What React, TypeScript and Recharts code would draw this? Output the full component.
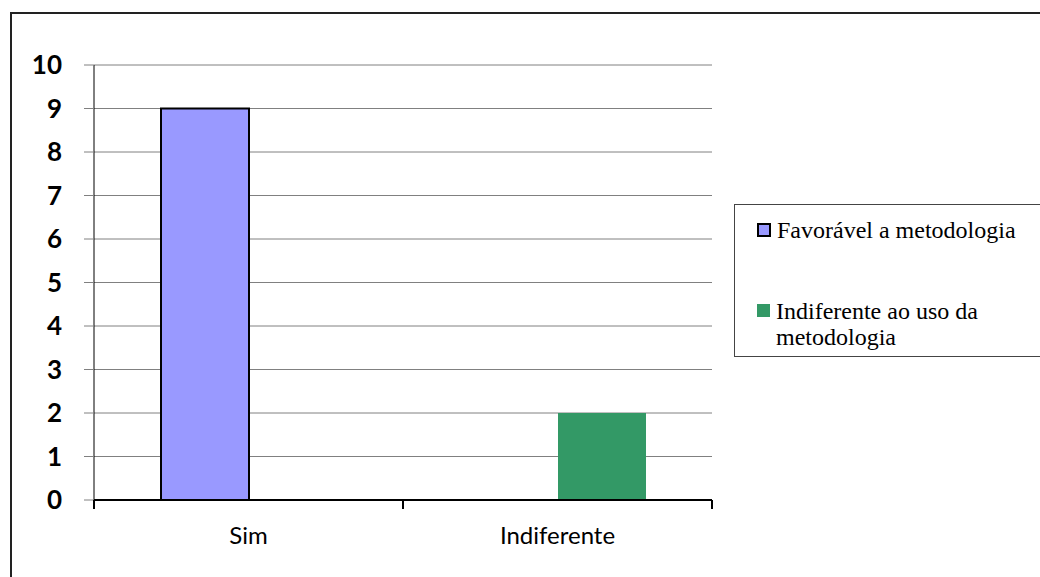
import { BarChart, Bar, XAxis, YAxis, CartesianGrid } from "recharts";

const categories = ["Sim", "Indiferente"];
const favoravel = [9, null];
const indiferente = [null, 2];
const yTicks = [0, 1, 2, 3, 4, 5, 6, 7, 8, 9, 10];

const series = [
  { key: "favoravel", name: "Favorável a metodologia", fill: "#9999FF", stroke: "#000" },
  { key: "indiferente", name: "Indiferente ao uso da metodologia", fill: "#339966", stroke: "none" },
];

const data = categories.map((name, i) => ({
  name,
  favoravel: favoravel[i],
  indiferente: indiferente[i],
}));

const TICK_MARGIN = 27;

// category label at the band centre, plus Excel-style tick marks on the band edges
function CategoryTick(props: any) {
  const { x, y, payload, index, visibleTicksCount } = props;
  const half = payload?.offset ?? 0;
  const axisY = y - TICK_MARGIN;
  const isLast = index === visibleTicksCount - 1;
  return (
    <g>
      <line x1={x - half} x2={x - half} y1={axisY} y2={axisY + 9} stroke="#000" strokeWidth={2} />
      {isLast && (
        <line x1={x + half} x2={x + half} y1={axisY} y2={axisY + 9} stroke="#000" strokeWidth={2} />
      )}
      <text
        x={x}
        y={y}
        dy="0.71em"
        textAnchor="middle"
        fill="#000"
        style={{ fontFamily: "Lato, sans-serif", fontSize: 24 }}
      >
        {payload.value}
      </text>
    </g>
  );
}

export default function App() {
  return (
    <div
      style={{
        position: "fixed",
        left: 0,
        top: 0,
        width: 1040,
        height: 577,
        overflow: "hidden",
        background: "#fff",
      }}
    >
      <div
        style={{
          position: "absolute",
          left: 10,
          top: 12,
          width: 1100,
          height: 700,
          borderLeft: "2px solid #222",
          borderTop: "2px solid #222",
        }}
      />
      <div style={{ position: "absolute", left: 0, top: 0 }}>
        <BarChart
          width={1040}
          height={577}
          data={data}
          margin={{ top: 65, right: 328, bottom: 37, left: 10 }}
          barGap={0}
        >
          <CartesianGrid vertical={false} stroke="#808080" />
          <YAxis
            type="number"
            domain={[0, 10]}
            ticks={yTicks}
            interval={0}
            width={84}
            tickSize={10}
            tickMargin={22}
            axisLine={{ stroke: "#000" }}
            tickLine={{ stroke: "#808080" }}
            tick={{ fill: "#000", fontFamily: "Lato, sans-serif", fontSize: 26, fontWeight: 700 }}
          />
          <XAxis
            dataKey="name"
            height={40}
            interval={0}
            tickSize={0}
            tickMargin={TICK_MARGIN}
            tickLine={false}
            axisLine={{ stroke: "#000", strokeWidth: 2 }}
            tick={<CategoryTick />}
          />
          {series.map((s) => (
            <Bar
              key={s.key}
              dataKey={s.key}
              name={s.name}
              fill={s.fill}
              stroke={s.stroke}
              strokeWidth={2}
              barSize={88}
              isAnimationActive={false}
            />
          ))}
        </BarChart>
      </div>
      <div
        style={{
          position: "absolute",
          left: 734,
          top: 204,
          width: 340,
          height: 153,
          border: "1px solid #444",
          fontFamily: "'Liberation Serif', 'Times New Roman', serif",
          fontSize: 24,
          lineHeight: "26px",
          color: "#000",
          boxSizing: "border-box",
        }}
      >
        {series.map((s, i) => (
          <div
            key={s.key}
            style={{
              position: "absolute",
              left: 22,
              top: i === 0 ? 12 : 93,
              display: "flex",
              alignItems: "flex-start",
            }}
          >
            <span
              style={{
                display: "inline-block",
                flex: "none",
                width: i === 0 ? 14 : 13,
                height: i === 0 ? 14 : 13,
                marginTop: 6,
                marginRight: 6,
                background: s.fill,
                border: i === 0 ? "2px solid #000" : "none",
                boxSizing: "border-box",
              }}
            />
            <span style={i === 0 ? { whiteSpace: "nowrap" } : { width: 225 }}>{s.name}</span>
          </div>
        ))}
      </div>
    </div>
  );
}
